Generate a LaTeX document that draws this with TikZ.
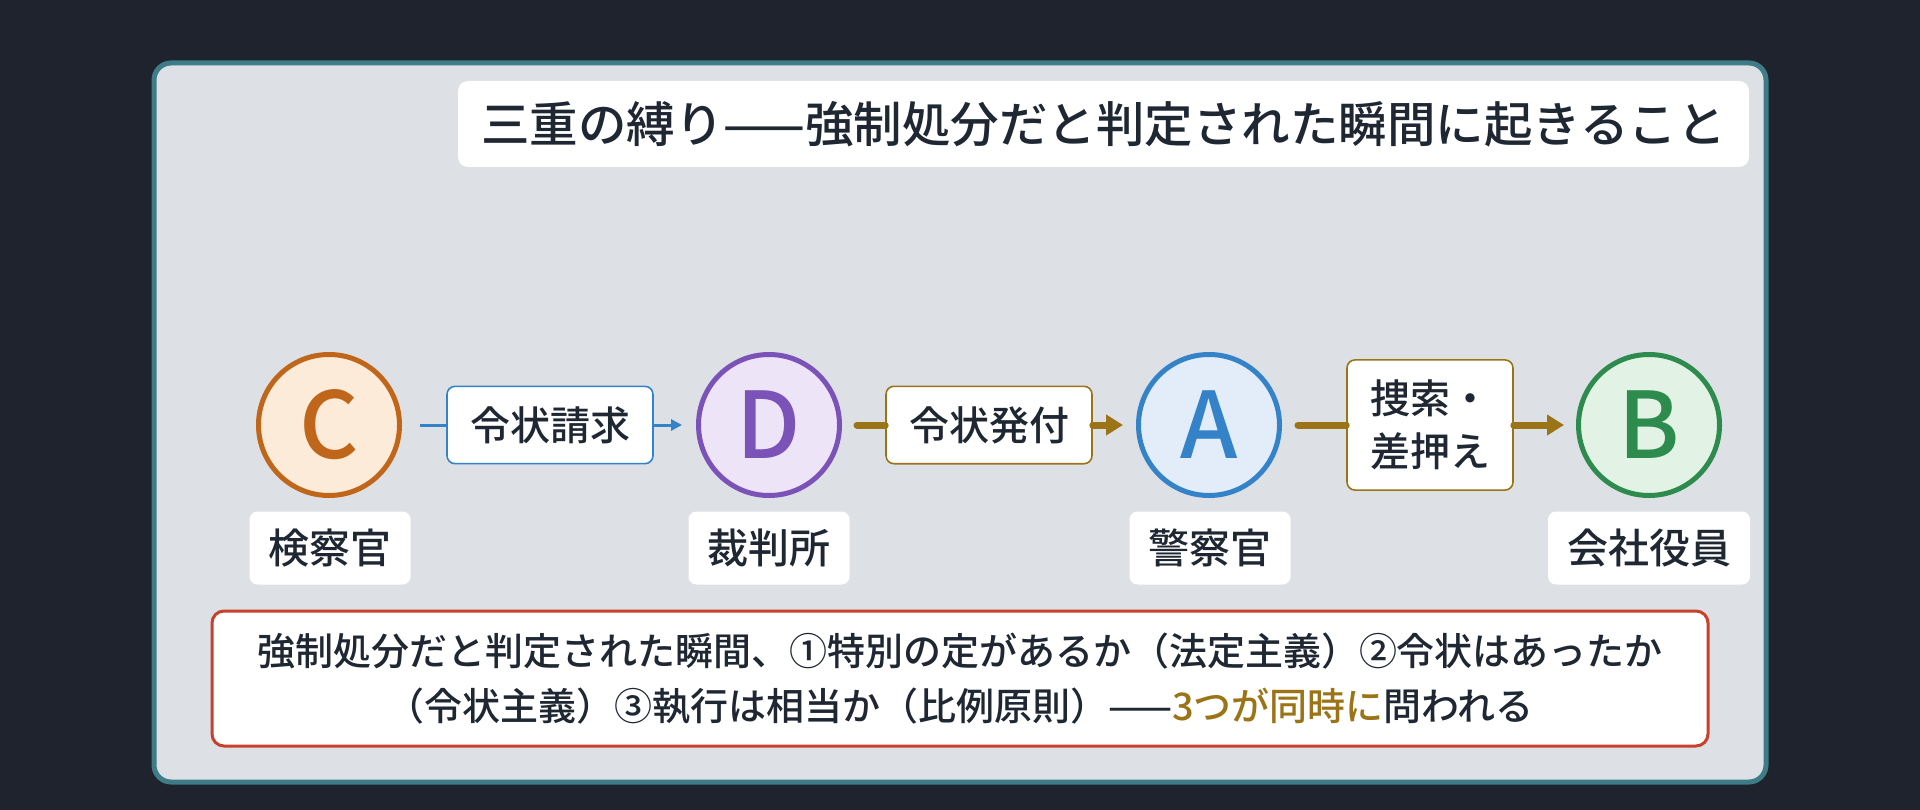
\documentclass[tikz,border=0pt]{standalone}
\usepackage{fontspec}
\setmainfont{Noto Sans CJK JP}[UprightFont={* Medium}, BoldFont={* Bold}]
\usetikzlibrary{arrows.meta}
\definecolor{bgdark}{HTML}{1E232D}
\definecolor{panelfill}{HTML}{DDE0E5}
\definecolor{panelline}{HTML}{3E7C88}
\definecolor{ink}{HTML}{1F2733}
\definecolor{corange}{HTML}{C0661A}
\definecolor{forange}{HTML}{FDEBDA}
\definecolor{cpurple}{HTML}{7B52B8}
\definecolor{fpurple}{HTML}{EDE4F8}
\definecolor{cblue}{HTML}{3483C8}
\definecolor{fblue}{HTML}{E3EDF9}
\definecolor{cgreen}{HTML}{2E8B4E}
\definecolor{fgreen}{HTML}{E2F3E6}
\definecolor{cgold}{HTML}{9C7418}
\definecolor{cred}{HTML}{C8412C}
\tikzset{
  actor/.style={circle, line width=5pt, minimum size=141pt, inner sep=0pt,
    font=\fontsize{92}{92}\selectfont},
  rolebox/.style={fill=white, rounded corners=8pt, text=ink, inner xsep=19pt,
    minimum height=73pt, font=\fontsize{41}{41}\selectfont},
  actbox/.style={fill=white, rounded corners=8pt, text=ink, line width=1.6pt,
    inner xsep=23pt, inner ysep=20pt, align=center, font=\fontsize{40}{53}\selectfont},
  blueline/.style={cblue, line width=3pt},
  goldline/.style={cgold, line width=7pt, line cap=round}
}
\begin{document}
\begin{tikzpicture}[x=1pt,y=-1pt]
  \fill[bgdark] (0,0) rectangle (1920,810);
  \draw[panelline, fill=panelfill, line width=5pt, rounded corners=17pt] (154,63) rectangle (1766,782);
  \node[fill=white, rounded corners=10pt, text=ink, minimum width=1291pt, minimum height=86pt,
    font=\fontsize{48.5}{48.5}\selectfont] (title) at (1103.5,124) {三重の縛り——強制処分だと判定された瞬間に起きること};

  \node[actor, draw=corange, fill=forange, text=corange] (C) at (329,425) {C};
  \node[actor, draw=cpurple, fill=fpurple, text=cpurple] (D) at (769,425) {D};
  \node[actor, draw=cblue, fill=fblue, text=cblue] (A) at (1209,425) {A};
  \node[actor, draw=cgreen, fill=fgreen, text=cgreen] (B) at (1649,425) {B};

  \node[rolebox] (Clab) at (330,548) {検察官};
  \node[rolebox] (Dlab) at (769,548) {裁判所};
  \node[rolebox] (Alab) at (1210,548) {警察官};
  \node[rolebox] (Blab) at (1649,548) {会社役員};

  \node[actbox, draw=cblue] (req) at (550,425) {令状請求};
  \node[actbox, draw=cgold] (iss) at (989,425) {令状発付};
  \node[actbox, draw=cgold] (srch) at (1430,425) {捜索・\\差押え};

  \draw[blueline, shorten <=18pt] (C) -- (req);
  \draw[blueline, -{Triangle[length=11pt,width=11pt]}, shorten >=14pt] (req) -- (D);
  \draw[goldline, shorten <=15pt] (D) -- (iss);
  \draw[goldline, -{Triangle[length=17pt,width=20pt]}, shorten >=13pt] (iss) -- (A);
  \draw[goldline, shorten <=16pt] (A) -- (srch);
  \draw[goldline, -{Triangle[length=17pt,width=20pt]}, shorten >=12pt] (srch) -- (B);

  \node[fill=white, draw=cred, line width=3pt, rounded corners=12pt, text=ink, align=center,
    minimum width=1496pt, minimum height=135pt, font=\fontsize{38}{55}\selectfont] (note) at (960,678.5)
    {強制処分だと判定された瞬間、①特別の定があるか（法定主義）②令状はあったか\\
     （令状主義）③執行は相当か（比例原則）——\textcolor{cgold}{3つが同時に}問われる};
\end{tikzpicture}
\end{document}
